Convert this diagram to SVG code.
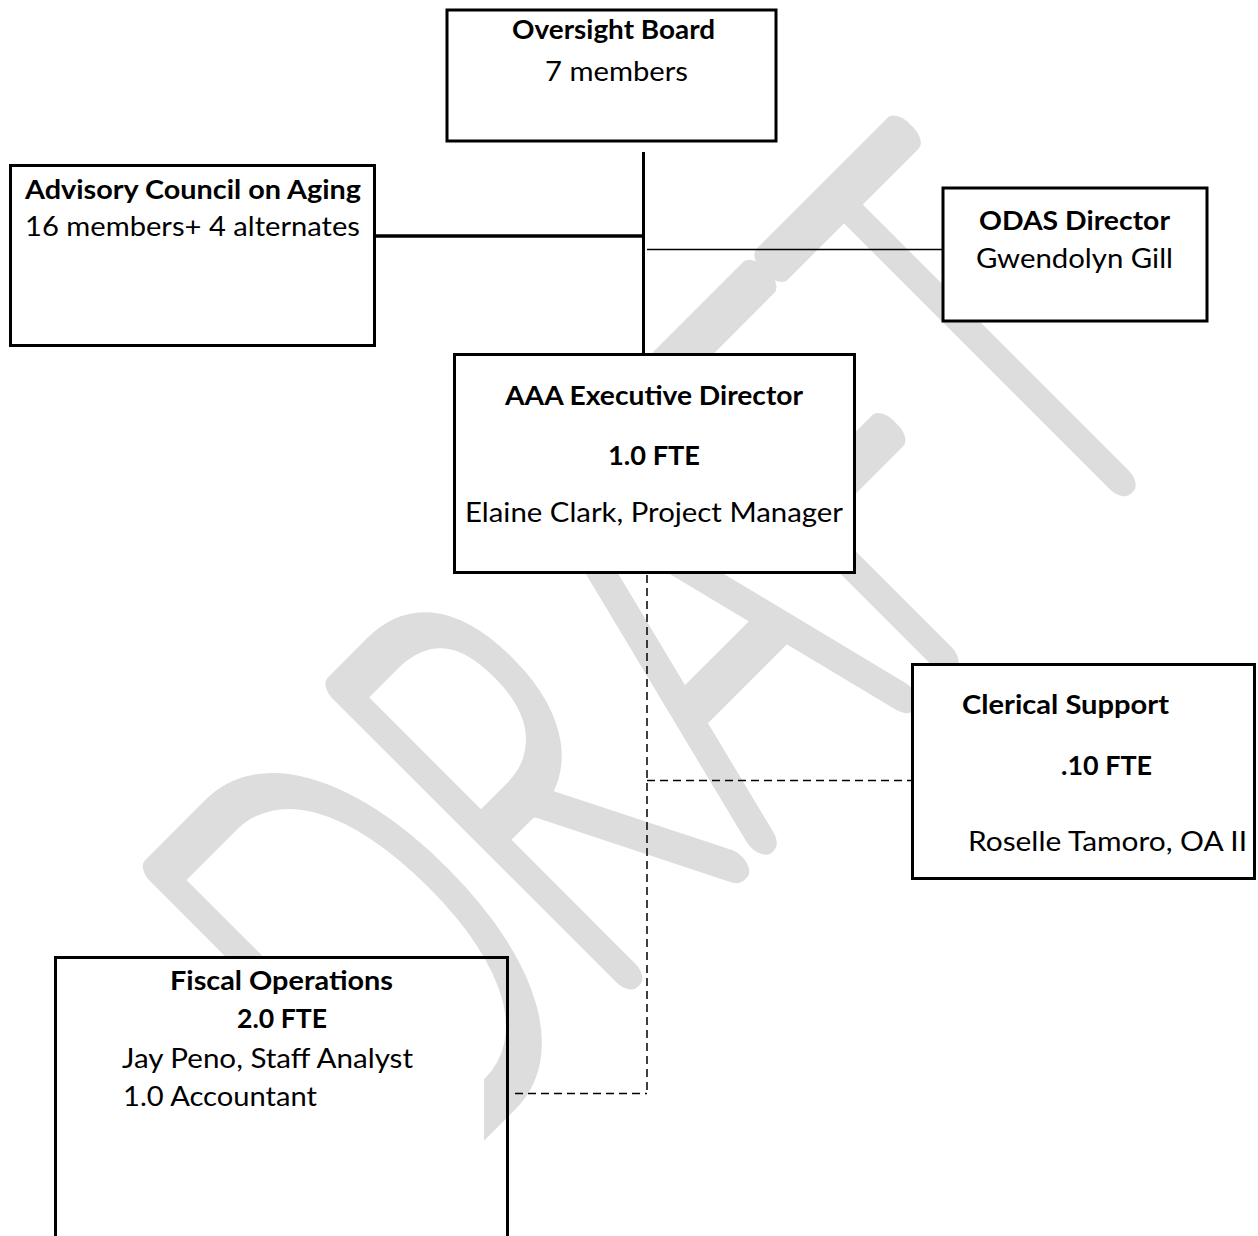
<svg xmlns="http://www.w3.org/2000/svg" width="1258" height="1236" viewBox="0 0 1258 1236">
<style>
  text { font-family: Lato, "Open Sans", "Liberation Sans", sans-serif; font-size: 26px; fill: #000; }
  .b { font-weight: bold; }
  .box { fill: #fff; stroke: #000; stroke-width: 3; }
  .solid { stroke: #000; fill: none; }
  .dash { stroke: #000; stroke-width: 1.5; stroke-dasharray: 8 5; fill: none; }
  .wm { font-family: Lato, "Open Sans", sans-serif; font-size: 572px; font-weight: 100; fill: #dddddd; stroke: #dddddd; stroke-width: 31; stroke-linejoin: round; stroke-linecap: round; vector-effect: non-scaling-stroke; }
</style>
<rect width="1258" height="1236" fill="#fff"/>
<g id="watermark" transform="rotate(-45)">
  <text class="wm" transform="scale(0.6,1)" x="-692 -310 75 428 753" y="1130" text-anchor="middle" vector-effect="non-scaling-stroke">DRAFT</text>
</g>
<g id="connectors">
  <line class="solid" x1="643.5" y1="152" x2="643.5" y2="354" stroke-width="3"/>
  <line class="solid" x1="376" y1="236" x2="645" y2="236" stroke-width="3.5"/>
  <line class="solid" x1="647" y1="249.5" x2="943" y2="249.5" stroke-width="1.5"/>
  <line class="dash" x1="647" y1="575" x2="647" y2="1093.5"/>
  <line class="dash" x1="647" y1="780.5" x2="911" y2="780.5"/>
  <line class="dash" x1="515" y1="1093.5" x2="647" y2="1093.5"/>
</g>
<g id="oversight">
  <rect class="box" x="447" y="10" width="329" height="131" stroke-width="4"/>
  <text class="b" x="512" y="39" textLength="203" lengthAdjust="spacingAndGlyphs">Oversight Board</text>
  <text x="545" y="81" textLength="143" lengthAdjust="spacingAndGlyphs">7 members</text>
</g>
<g id="advisory">
  <rect class="box" x="10.5" y="165.5" width="364" height="180"/>
  <text class="b" x="25" y="199" textLength="336" lengthAdjust="spacingAndGlyphs">Advisory Council on Aging</text>
  <text x="25" y="236" textLength="335" lengthAdjust="spacingAndGlyphs">16 members+ 4 alternates</text>
</g>
<g id="odas">
  <rect class="box" x="943" y="188" width="264" height="133" stroke-width="4"/>
  <text class="b" x="979" y="230" textLength="191" lengthAdjust="spacingAndGlyphs">ODAS Director</text>
  <text x="976" y="268" textLength="197" lengthAdjust="spacingAndGlyphs">Gwendolyn Gill</text>
</g>
<g id="executive">
  <rect class="box" x="454.5" y="354.5" width="400" height="218"/>
  <text class="b" x="505" y="405" textLength="298" lengthAdjust="spacingAndGlyphs">AAA Executive Director</text>
  <text class="b" x="608" y="465" textLength="92" lengthAdjust="spacingAndGlyphs">1.0 FTE</text>
  <text x="465" y="522" textLength="378" lengthAdjust="spacingAndGlyphs">Elaine Clark, Project Manager</text>
</g>
<g id="clerical">
  <rect class="box" x="912.5" y="664.5" width="342" height="214"/>
  <text class="b" x="962" y="714" textLength="207" lengthAdjust="spacingAndGlyphs">Clerical Support</text>
  <text class="b" x="1061" y="775" textLength="91" lengthAdjust="spacingAndGlyphs">.10 FTE</text>
  <text x="968" y="851" textLength="279" lengthAdjust="spacingAndGlyphs">Roselle Tamoro, OA II</text>
</g>
<g id="fiscal">
  <rect x="55" y="957" width="429" height="290" fill="#fff"/>
  <rect x="55.5" y="957.5" width="452" height="290" fill="none" stroke="#000" stroke-width="3"/>
  <text class="b" x="170" y="990" textLength="223" lengthAdjust="spacingAndGlyphs">Fiscal Operations</text>
  <text class="b" x="237" y="1028" textLength="90" lengthAdjust="spacingAndGlyphs">2.0 FTE</text>
  <text x="122" y="1068" textLength="291" lengthAdjust="spacingAndGlyphs">Jay Peno, Staff Analyst</text>
  <text x="123" y="1106" textLength="194" lengthAdjust="spacingAndGlyphs">1.0 Accountant</text>
</g>
</svg>
